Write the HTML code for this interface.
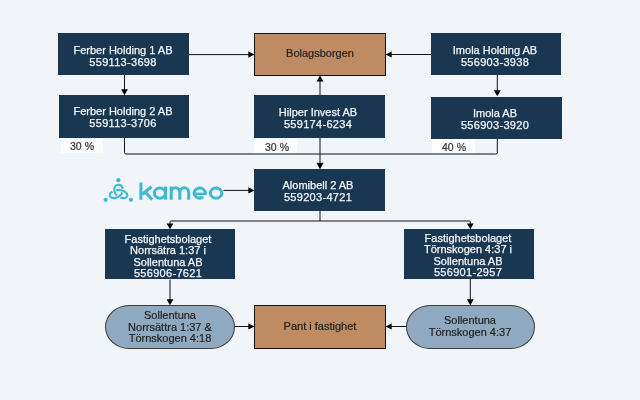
<!DOCTYPE html>
<html><head><meta charset="utf-8">
<style>
html,body{margin:0;padding:0;}
body{width:640px;height:400px;background:#f1f4f8;position:relative;overflow:hidden;font-family:"Liberation Sans",sans-serif;}
.b{position:absolute;box-sizing:border-box;}
.d{background:#1a3751;}
.br{background:#be8b62;border:1px solid #111;}
.ov{background:#8fa9c0;border:1px solid #3a3a3a;border-radius:24px / 22px;}
.t{position:absolute;will-change:transform;width:200px;text-align:center;font-size:11px;line-height:12px;white-space:nowrap;}
.w{color:#f4f6f8;-webkit-text-stroke:0.25px #f4f6f8;}
.k{color:#222;-webkit-text-stroke:0.2px #222;}
.n{letter-spacing:0.3px;}
.lab{position:absolute;background:#fcfcfd;}
.lt{position:absolute;will-change:transform;width:60px;text-align:center;font-size:10.5px;line-height:12px;color:#333;white-space:nowrap;-webkit-text-stroke:0.2px #333;}
svg{position:absolute;left:0;top:0;}
</style></head><body>
<div class="b d" style="left:58px;top:33px;width:131px;height:42px"></div>
<div class="b br" style="left:254px;top:33px;width:132px;height:43px"></div>
<div class="b d" style="left:431px;top:33px;width:130px;height:42px"></div>
<div class="b d" style="left:59px;top:95px;width:130px;height:43px"></div>
<div class="b d" style="left:254px;top:95px;width:131px;height:43px"></div>
<div class="b d" style="left:431px;top:97px;width:131px;height:42px"></div>
<div class="b d" style="left:254px;top:169px;width:131px;height:42px"></div>
<div class="b d" style="left:105px;top:229px;width:130px;height:50px"></div>
<div class="b d" style="left:404px;top:229px;width:130px;height:50px"></div>
<div class="b ov" style="left:105px;top:305px;width:130px;height:44px"></div>
<div class="b br" style="left:254px;top:305px;width:132px;height:44px"></div>
<div class="b ov" style="left:406px;top:305px;width:129px;height:44px"></div>
<div class="lab" style="left:61px;top:139px;width:42px;height:14px"></div>
<div class="lab" style="left:254px;top:139px;width:43px;height:14px"></div>
<div class="lab" style="left:432px;top:139px;width:43px;height:14px"></div>
<div class="lt" style="left:51.60px;top:140.30px">30 %</div>
<div class="lt" style="left:246.50px;top:140.50px">30 %</div>
<div class="lt" style="left:423.80px;top:140.60px">40 %</div>
<div class="t w" style="left:22.50px;top:43.70px">Ferber Holding 1 AB</div>
<div class="t w n" style="left:22.50px;top:55.50px">559113-3698</div>
<div class="t k" style="left:219.75px;top:46.90px">Bolagsborgen</div>
<div class="t w" style="left:395.10px;top:43.80px">Imola Holding AB</div>
<div class="t w n" style="left:395.10px;top:55.50px">556903-3938</div>
<div class="t w" style="left:22.50px;top:105.30px">Ferber Holding 2 AB</div>
<div class="t w n" style="left:22.50px;top:117.00px">559113-3706</div>
<div class="t w" style="left:218.00px;top:105.90px">Hilper Invest AB</div>
<div class="t w n" style="left:218.00px;top:117.90px">559174-6234</div>
<div class="t w" style="left:395.10px;top:106.70px">Imola AB</div>
<div class="t w n" style="left:395.10px;top:118.90px">556903-3920</div>
<div class="t w" style="left:218.00px;top:178.90px">Alomibell 2 AB</div>
<div class="t w n" style="left:218.00px;top:190.90px">559203-4721</div>
<div class="t w" style="left:68.00px;top:232.60px">Fastighetsbolaget</div>
<div class="t w" style="left:68.00px;top:244.40px">Norrsätra 1:37 i</div>
<div class="t w" style="left:68.00px;top:256.00px">Sollentuna AB</div>
<div class="t w n" style="left:68.00px;top:266.80px">556906-7621</div>
<div class="t w" style="left:367.70px;top:231.60px">Fastighetsbolaget</div>
<div class="t w" style="left:367.70px;top:243.40px">Törnskogen 4:37 i</div>
<div class="t w" style="left:367.70px;top:255.20px">Sollentuna AB</div>
<div class="t w n" style="left:367.70px;top:266.20px">556901-2957</div>
<div class="t k" style="left:69.80px;top:308.75px">Sollentuna</div>
<div class="t k" style="left:69.80px;top:320.80px">Norrsättra 1:37 &amp;</div>
<div class="t k" style="left:69.80px;top:331.70px">Törnskogen 4:18</div>
<div class="t k" style="left:219.50px;top:320.20px">Pant i fastighet</div>
<div class="t k" style="left:370.00px;top:313.75px">Sollentuna</div>
<div class="t k" style="left:370.00px;top:325.50px">Törnskogen 4:37</div>
<svg width="640" height="400" viewBox="0 0 640 400">
<g fill="none" stroke="#111" stroke-width="1">
<path d="M189 54.6H249"/>
<path d="M431 54.5H391"/>
<path d="M124.5 75V90"/>
<path d="M497.3 75V91"/>
<path d="M320 95.5V81"/>
<path d="M124.5 138V152.5Q124.5 154 126 154H495.8Q497.3 154 497.3 152.5V139"/>
<path d="M320 138V163"/>
<path d="M223.6 190.4H249"/>
<path d="M320 211V221"/>
<path d="M170 224V222Q170 221 171 221H469.3Q470.3 221 470.3 222V224"/>
<path d="M170 279.5V300"/>
<path d="M470.3 279V300"/>
<path d="M235 326.5H249"/>
<path d="M406 326.5H391"/>
</g>
<g fill="#000">
<path d="M254.5 54.6L248.3 51.5V57.7Z"/>
<path d="M385.5 54.5L391.7 51.4V57.6Z"/>
<path d="M124.5 95.2L121.1 89.2H127.9Z"/>
<path d="M497.3 96.2L493.90000000000003 90.2H500.7Z"/>
<path d="M320 75.6L316.6 81.6H323.4Z"/>
<path d="M320 169.2L316.4 162.7H323.6Z"/>
<path d="M254.5 190.4L248.3 187.3V193.5Z"/>
<path d="M170 229.2L166.6 223.6H173.4Z"/>
<path d="M470.3 229.2L466.90000000000003 223.6H473.7Z"/>
<path d="M170 305.2L166.6 299.2H173.4Z"/>
<path d="M470.3 305.2L466.90000000000003 299.2H473.7Z"/>
<path d="M254.5 326.5L248.3 323.4V329.6Z"/>
<path d="M385.5 326.5L391.7 323.4V329.6Z"/>
</g>
<g fill="#3dbad2">
<circle cx="118.3" cy="180.2" r="2.1"/>
<circle cx="105.7" cy="199.8" r="2.1"/>
<circle cx="130.9" cy="199.8" r="2.1"/>
</g>
<g fill="none" stroke="#3dbad2" stroke-width="2.1"><path stroke-linejoin="round" d="M116.30 190.17L116.85 190.10L117.39 190.04L117.95 190.01L118.50 189.99L119.05 190.01L119.61 190.04L120.15 190.10L120.70 190.17L121.23 190.27L121.75 190.39L122.26 190.53L122.75 190.70L123.22 190.88L123.68 191.07L124.11 191.29L124.52 191.52L124.91 191.76L125.27 192.02L125.60 192.29L125.90 192.56L126.18 192.85L126.42 193.15L126.63 193.45L126.81 193.75L126.95 194.05L127.07 194.36L127.14 194.66L127.19 194.97L127.20 195.26L127.18 195.55L127.12 195.83L127.03 196.10L126.91 196.36L126.76 196.61L126.58 196.84L126.37 197.06L126.13 197.26L125.87 197.44L125.58 197.60L125.26 197.74L124.93 197.86L124.57 197.96L124.20 198.03L123.81 198.08L123.40 198.10L122.99 198.10L122.56 198.07L122.12 198.01L121.68 197.93L121.23 197.83L120.79 197.70L120.34 197.54M117.03 195.46L116.68 195.11L116.35 194.74L116.04 194.36L115.75 193.96L115.48 193.56L115.24 193.14L115.02 192.72L114.83 192.29L114.67 191.86L114.54 191.42L114.43 190.99L114.35 190.55L114.30 190.12L114.28 189.69L114.29 189.27L114.32 188.86L114.38 188.46L114.47 188.08L114.58 187.70L114.72 187.34L114.88 187.00L115.07 186.68L115.27 186.38L115.50 186.10L115.74 185.84L116.01 185.61L116.28 185.40L116.57 185.22L116.88 185.06L117.19 184.93L117.51 184.83L117.84 184.76L118.17 184.71L118.50 184.70L118.83 184.71L119.16 184.76L119.49 184.83L119.81 184.93L120.12 185.06L120.43 185.22L120.72 185.40L120.99 185.61L121.26 185.84L121.50 186.10L121.73 186.38L121.93 186.68L122.12 187.00L122.28 187.34L122.42 187.70L122.53 188.08L122.62 188.46L122.68 188.86M122.17 192.29L121.98 192.72L121.76 193.14L121.52 193.56L121.25 193.96L120.96 194.36L120.65 194.74L120.32 195.11L119.97 195.46L119.60 195.79L119.21 196.11L118.81 196.40L118.40 196.67L117.98 196.93L117.54 197.16L117.10 197.36L116.66 197.54L116.21 197.70L115.77 197.83L115.32 197.93L114.88 198.01L114.44 198.07L114.01 198.10L113.60 198.10L113.19 198.08L112.80 198.03L112.43 197.96L112.07 197.86L111.74 197.74L111.42 197.60L111.13 197.44L110.87 197.26L110.63 197.06L110.42 196.84L110.24 196.61L110.09 196.36L109.97 196.10L109.88 195.83L109.82 195.55L109.80 195.26L109.81 194.97L109.86 194.66L109.93 194.36L110.05 194.05L110.19 193.75L110.37 193.45L110.58 193.15L110.82 192.85L111.10 192.56L111.40 192.29L111.73 192.02L112.09 191.76L112.48 191.52"/></g>
<g fill="none" stroke="#3dbad2" stroke-width="3.05">
<path d="M140.9 182.5V199.7"/>
<path d="M151.6 186.6L142.4 194.2M145.4 192L152.2 199.8"/>
<ellipse cx="159.9" cy="193.1" rx="5.5" ry="5.1"/>
<path d="M165.6 186.5V199.7"/>
<path d="M171.2 186.5V199.7M171.2 192.2A4.2 4.35 0 0 1 179.8 192.2V199.7M179.8 192.2A4.35 4.35 0 0 1 188.7 192.2V199.7"/>
<path d="M205.3 193.4A5.6 5.0 0 1 0 203.2 197"/><path stroke-width="2.4" d="M194.3 193.8H206.8"/>
<ellipse cx="216.1" cy="193.1" rx="5.7" ry="5.15"/>
</g>
</svg>
</body></html>
